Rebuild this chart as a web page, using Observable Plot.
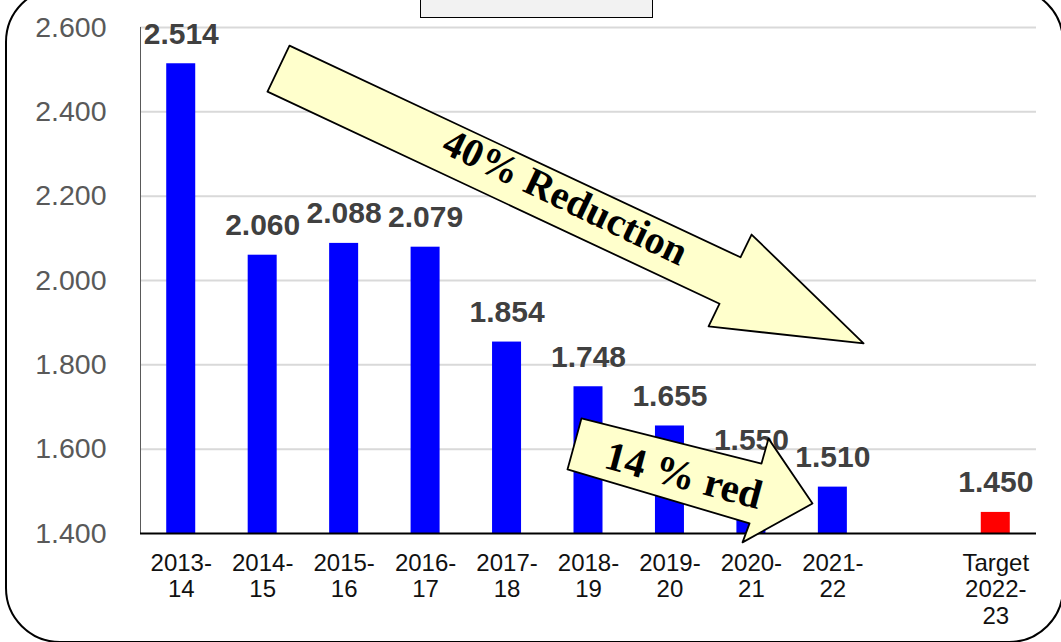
<!DOCTYPE html>
<html>
<head>
<meta charset="utf-8">
<script src="https://cdn.jsdelivr.net/npm/d3@7"></script>
<script src="https://cdn.jsdelivr.net/npm/@observablehq/plot@0.6"></script>
<style>
  html, body { margin: 0; padding: 0; background: #fff; }
  #wrap { position: relative; width: 1061px; height: 642px; overflow: hidden; }
  #frame { position: absolute; left: 5px; top: -13px; width: 1059px; height: 656px;
           border: 2px solid #000; border-radius: 55px; box-sizing: border-box; }
  #chart { position: absolute; left: 0; top: 0; }
  #titlebox { position: absolute; left: 420px; top: -4px; width: 233px; height: 22px;
              background: #f2f2f2; border: 1.5px solid #000; box-sizing: border-box; }
</style>
</head>
<body>
<div id="wrap">
  <div id="frame"></div>
  <div id="chart"></div>
  <div id="titlebox"></div>
</div>
<script>
// Reporting periods (one blank slot separates the actuals from the target)
const periods = ["2013-\n14", "2014-\n15", "2015-\n16", "2016-\n17", "2017-\n18",
                 "2018-\n19", "2019-\n20", "2020-\n21", "2021-\n22", "", "Target\n2022-\n23"];
const values = [2.514, 2.060, 2.088, 2.079, 1.854, 1.748, 1.655, 1.550, 1.510, null, 1.450];
const yTicks = [1.4, 1.6, 1.8, 2.0, 2.2, 2.4, 2.6];

// Annotation arrows, outlined in data units (period index, value)
const longArrowX = [1.329, 6.866, 7.002, 8.377, 6.474, 6.609, 1.059];
const longArrowY = [2.557, 2.055, 2.109, 1.851, 1.891, 1.945, 2.448];
const shortArrowX = [4.914, 7.124, 7.210, 7.750, 6.891, 6.977, 4.742];
const shortArrowY = [1.673, 1.566, 1.625, 1.471, 1.379, 1.424, 1.552];
const arrowLabels = ["40% Reduction", "14 % red"];

const rows = values.map((v, i) => ({i, period: periods[i], value: v}))
                   .filter(d => d.value != null);
const longArrow = d3.zip(longArrowX, longArrowY);
const shortArrow = d3.zip(shortArrowX, shortArrowY);
const yMin = yTicks[0];
const half = 0.178;
const serif = "'Liberation Serif', 'Times New Roman', serif";

const plot = Plot.plot({
  width: 1061,
  height: 642,
  marginLeft: 140,
  marginRight: 25,
  marginTop: 27,
  marginBottom: 109,
  style: {fontFamily: "'Liberation Sans', Arial, sans-serif", background: "transparent", overflow: "visible"},
  x: {type: "linear", domain: [-0.5, periods.length - 0.5]},
  y: {domain: [yTicks[0], yTicks[yTicks.length - 1]]},
  marks: [
    Plot.gridY(yTicks.slice(1), {stroke: "#d9d9d9", strokeWidth: 2, strokeOpacity: 1}),
    Plot.ruleX([-0.5], {y1: yMin, y2: yTicks[yTicks.length - 1], stroke: "#595959", strokeWidth: 1}),
    Plot.rectY(rows, {
      x1: d => d.i - half, x2: d => d.i + half, y1: yMin, y2: "value",
      fill: d => d.period.startsWith("Target") ? "#ff0000" : "#0000ff"
    }),
    Plot.ruleY([yMin], {stroke: "#000", strokeWidth: 2}),
    Plot.axisY({
      ticks: yTicks, tickFormat: d3.format(".3f"), tickSize: 0, tickPadding: 34,
      fontSize: 28.5, fill: "#595959", label: null
    }),
    Plot.axisX({
      ticks: d3.range(periods.length), tickFormat: i => periods[i], tickSize: 0, tickPadding: 18,
      fontSize: 24, fill: "#111", lineHeight: 1.12, label: null
    }),
    Plot.text(rows, {
      x: "i", y: "value", text: d => d3.format(".3f")(d.value),
      dy: -20, lineAnchor: "bottom", fontSize: 30, fontWeight: "bold", fill: "#404040"
    }),
    Plot.line(longArrow, {x: d => d[0], y: d => d[1], curve: "linear-closed",
      fill: "#ffffcc", stroke: "#000", strokeWidth: 1.8}),
    Plot.text([arrowLabels[0]], {x: [4.715], y: [2.197], text: d => d, rotate: 25.5,
      fontSize: 40, fontWeight: "bold", fontFamily: serif, fill: "#000"}),
    Plot.line(shortArrow, {x: d => d[0], y: d => d[1], curve: "linear-closed",
      fill: "#ffffcc", stroke: "#000", strokeWidth: 1.8}),
    Plot.text([arrowLabels[1]], {x: [6.167], y: [1.537], text: d => d, rotate: 15,
      fontSize: 41, fontWeight: "bold", fontFamily: serif, fill: "#000"})
  ]
});
document.getElementById("chart").appendChild(plot);
</script>
</body>
</html>
